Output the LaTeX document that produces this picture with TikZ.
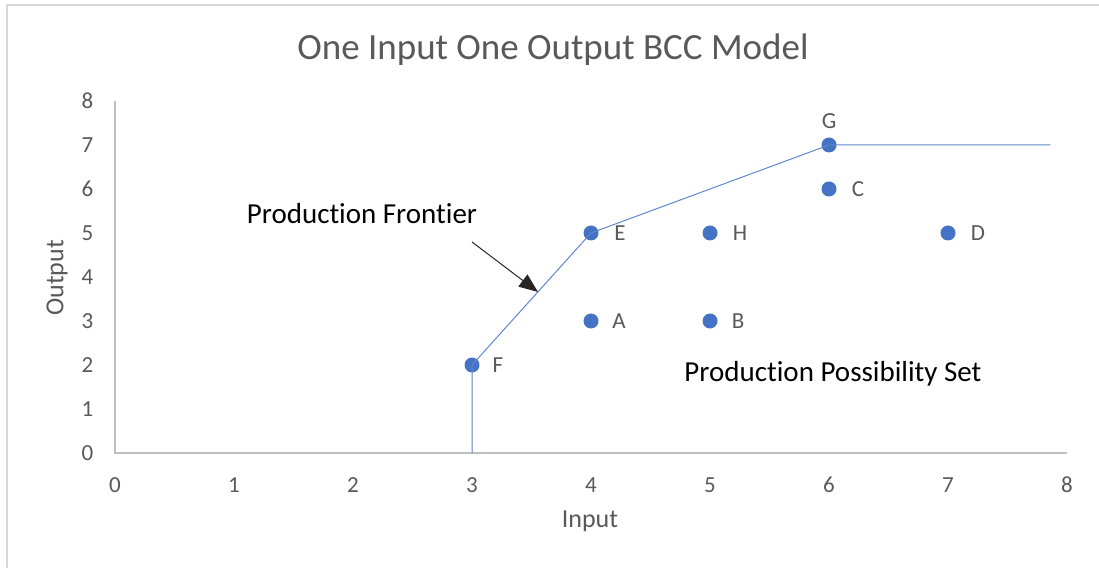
\documentclass[tikz,border=0pt]{standalone}
\usepackage{fontspec}
\setmainfont{Carlito}[Ligatures=CommonOff]
\usetikzlibrary{arrows.meta}
\definecolor{serieblue}{HTML}{4472C4}
\definecolor{axisgrey}{HTML}{BFBFBF}
\definecolor{framegrey}{HTML}{D9D9D9}
\definecolor{textgrey}{HTML}{595959}
\begin{document}
\begin{tikzpicture}[x=1pt,y=1pt,
  tick/.style={text=textgrey,font=\fontsize{23}{27}\selectfont,inner sep=0pt},
  dot/.style={circle,fill=serieblue,minimum size=15pt,inner sep=0pt},
  ptlabel/.style={text=textgrey,font=\fontsize{23}{27}\selectfont,inner sep=0pt},
  frontier/.style={draw=serieblue!85,line width=1pt},
  axisline/.style={draw=axisgrey,line width=1.5pt},
  note/.style={text=black,font=\fontsize{29}{34}\selectfont,inner sep=0pt},
  axtitle/.style={text=textgrey,font=\fontsize{26}{30}\selectfont,inner sep=0pt}]
\useasboundingbox (0,0) rectangle (1099,568);
% chart frame (top and left edges)
\draw[framegrey,line width=2pt] (7,0) -- (7,563) -- (1099,563);
% title
\node[text=textgrey,font=\fontsize{37}{42}\selectfont,inner sep=0pt] (title) at (553,518) {One Input One Output BCC Model};
% axis titles
\node[axtitle] (xtitle) at (590,47) {Input};
\node[axtitle,rotate=90] (ytitle) at (57,290) {Output};
\begin{scope}[shift={(115,115)},x=119pt,y=44pt]
  % axes
  \coordinate (o) at (0,0);
  \coordinate (xend) at (8,0);
  \coordinate (yend) at (0,8);
  \draw[axisline] (yend) -- (o) -- (xend);
  \foreach \i in {0,...,8}{
    \node[tick] (xt\i) at (\i,-0.73) {\i};
    \node[tick,anchor=east] (yt\i) at (-0.18,\i) {\i};
  }
  % frontier
  \coordinate (base) at (3,0);
  \coordinate (flat) at (7.86,7);
  \node[dot] (A) at (4,3) {};
  \node[dot] (B) at (5,3) {};
  \node[dot] (C) at (6,6) {};
  \node[dot] (D) at (7,5) {};
  \node[dot] (E) at (4,5) {};
  \node[dot] (F) at (3,2) {};
  \node[dot] (G) at (6,7) {};
  \node[dot] (H) at (5,5) {};
  \draw[frontier] (base) -- (F.center) -- (E.center) -- (G.center) -- (flat);
  % point labels
  \node[ptlabel,xshift=28pt] (lA) at (A) {A};
  \node[ptlabel,xshift=28pt] (lB) at (B) {B};
  \node[ptlabel,xshift=29pt] (lC) at (C) {C};
  \node[ptlabel,xshift=30pt] (lD) at (D) {D};
  \node[ptlabel,xshift=29pt] (lE) at (E) {E};
  \node[ptlabel,xshift=26pt] (lF) at (F) {F};
  \node[ptlabel,yshift=24pt] (lG) at (G) {G};
  \node[ptlabel,xshift=30pt] (lH) at (H) {H};
\end{scope}
% annotations
\node[note] (pf) at (362,354) {Production Frontier};
\node[note] (pps) at (833,194) {Production Possibility Set};
\coordinate (arrstart) at (472,326);
\coordinate (arrtip) at (538,276);
\draw[line width=1pt,black!85,-{Triangle[length=19pt,width=15pt]}] (arrstart) -- (arrtip);
\end{tikzpicture}
\end{document}
